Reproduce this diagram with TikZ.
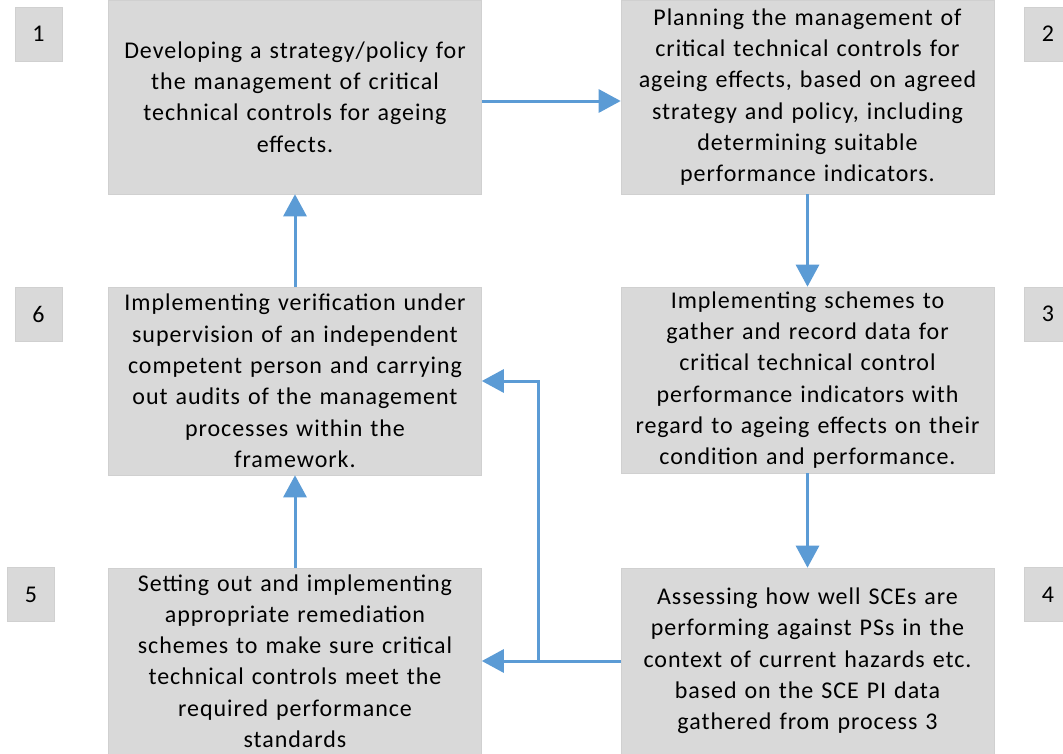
\documentclass[tikz,border=0pt]{standalone}
\usepackage{fontspec}
\setmainfont{Carlito}[LetterSpace=4]
\usetikzlibrary{arrows.meta}
\definecolor{boxgray}{HTML}{D9D9D9}
\definecolor{boxedge}{HTML}{D0D0D0}
\definecolor{arrowblue}{HTML}{5B9BD5}
\tikzset{
  x=1pt, y=-1pt,
  mainbox/.style={fill=boxgray, draw=boxedge, line width=0.6pt, minimum width=373pt, text width=370pt, align=center, inner sep=0pt,
    font=\fontsize{24}{31.3}\selectfont},
  numbox/.style={fill=boxgray, draw=boxedge, line width=0.8pt, minimum width=47pt, minimum height=54pt, inner sep=0pt,
    font=\fontsize{24}{25}\selectfont},
  flow/.style={draw=arrowblue, line width=3pt, -{Triangle[length=22pt, width=23pt]}},
}
\begin{document}
\begin{tikzpicture}
\useasboundingbox (0,0) rectangle (1063,753);
\fill[white] (0,0) rectangle (1063,753);
% main boxes
\node[mainbox, minimum height=194pt] (b1) at (295,97) {Developing a strategy/policy for\\ the management of critical\\ technical controls for ageing\\ effects.};
\node[mainbox, minimum height=194pt] (b2) at (807.5,97) {Planning the management of\\ critical technical controls for\\ ageing effects, based on agreed\\ strategy and policy, including\\ determining suitable\\ performance indicators.};
\node[mainbox, minimum height=188pt] (b6) at (295,381) {Implementing verification under\\ supervision of an independent\\ competent person and carrying\\ out audits of the management\\ processes within the\\ framework.};
\node[mainbox, minimum height=186pt] (b3) at (807.5,380) {Implementing schemes to\\ gather and record data for\\ critical technical control\\ performance indicators with\\ regard to ageing effects on their\\ condition and performance.};
\node[mainbox, minimum height=186pt] (b5) at (295,661) {Setting out and implementing\\ appropriate remediation\\ schemes to make sure critical\\ technical controls meet the\\ required performance\\ standards};
\node[mainbox, minimum height=186pt] (b4) at (807.5,661) {Assessing how well SCEs are\\ performing against PSs in the\\ context of current hazards etc.\\ based on the SCE PI data\\ gathered from process 3};
% number boxes
\node[numbox] (n1) at (38.5,34) {1};
\node[numbox] (n2) at (1048,34) {2};
\node[numbox] (n6) at (38.5,314) {6};
\node[numbox] (n3) at (1048,314) {3};
\node[numbox] (n5) at (31,594.5) {5};
\node[numbox] (n4) at (1048,594.5) {4};
% connectors
\draw[flow] ([yshift=-4pt]b1.east) -- ([yshift=-4pt]b2.west);
\draw[flow] (b2.south) -- (b3.north);
\draw[flow] (b3.south) -- (b4.north);
\draw[flow] (b6.north) -- (b1.south);
\draw[flow] (b5.north) -- (b6.south);
\draw[flow] (b4.west) -- (b5.east);
\coordinate (j) at (538,661);
\draw[flow] (j) |- (b6.east);
\end{tikzpicture}
\end{document}
